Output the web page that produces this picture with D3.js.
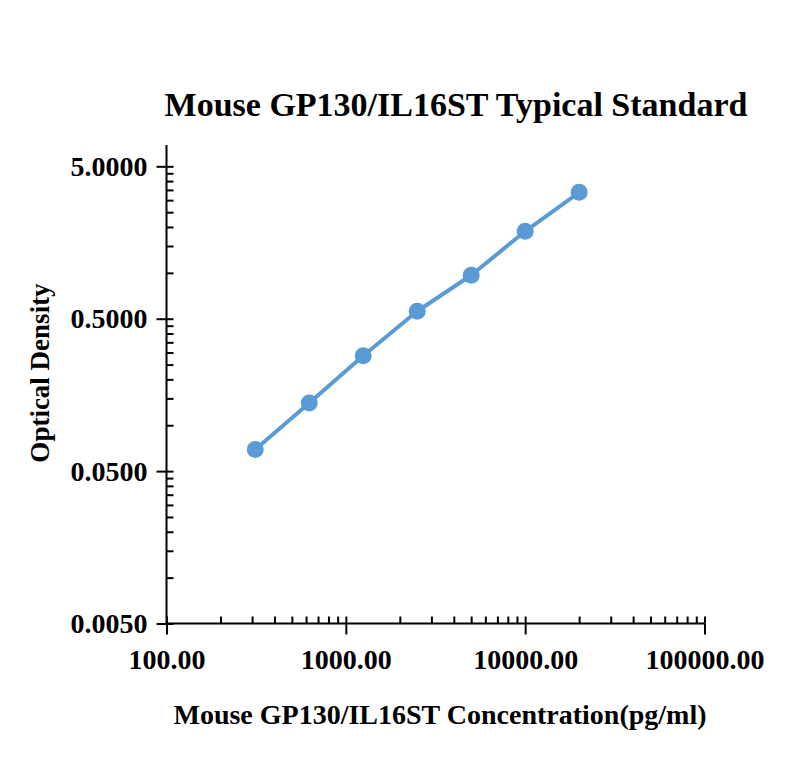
<!DOCTYPE html>
<html>
<head>
<meta charset="utf-8">
<script src="https://cdn.jsdelivr.net/npm/d3@7"></script>
<style>
  html, body { margin: 0; padding: 0; background: #fff; }
  svg { display: block; }
  text { font-family: "Liberation Serif", "Times New Roman", serif; font-weight: bold; fill: #000; }
</style>
</head>
<body>
<svg id="chart" width="800" height="784"></svg>
<script>
// ---- data ----
const concentrations = [312.5, 625, 1250, 2500, 5000, 10000, 20000];
const odValues = [0.0692, 0.140, 0.286, 0.560, 0.964, 1.873, 3.376];
const xMajorTicks = [100, 1000, 10000, 100000];
const xTickLabels = ["100.00", "1000.00", "10000.00", "100000.00"];
const yMajorTicks = [0.005, 0.05, 0.5, 5];
const yTickLabels = ["0.0050", "0.0500", "0.5000", "5.0000"];
const titleText = "Mouse GP130/IL16ST Typical Standard";
const xAxisTitle = "Mouse GP130/IL16ST Concentration(pg/ml)";
const yAxisTitle = "Optical Density";

// ---- layout ----
const svg = d3.select("#chart");
const left = 166.5, right = 704.5, bottom = 623.5;
const x = d3.scaleLog().domain([100, 100000]).range([left, right]);
const y = d3.scaleLog().domain([0.005, 6.9]).range([bottom, 145]);

const xMinor = [];
[100, 1000, 10000].forEach(b => { for (let k = 2; k <= 9; k++) xMinor.push(b * k); });
const yMinor = [];
[0.005, 0.05, 0.5].forEach(b => { for (let k = 2; k <= 9; k++) yMinor.push(+(b * k).toFixed(4)); });

const fontSize = 28;

const gyOuter = svg.append("g").attr("transform", `translate(${left},0)`)
  .call(d3.axisLeft(y).tickValues(yMajorTicks)
    .tickFormat((d, i) => yTickLabels[i]).tickSize(10).tickPadding(9));
const gyInner = svg.append("g").attr("transform", `translate(${left},0)`)
  .call(d3.axisRight(y).tickValues(yMajorTicks.concat(yMinor)).tickFormat("").tickSize(7));
gyInner.select(".domain").remove();

const gxOuter = svg.append("g").attr("transform", `translate(0,${bottom})`)
  .call(d3.axisBottom(x).tickValues(xMajorTicks)
    .tickFormat((d, i) => xTickLabels[i]).tickSize(11).tickPadding(15));
const gxInner = svg.append("g").attr("transform", `translate(0,${bottom})`)
  .call(d3.axisTop(x).tickValues(xMajorTicks.concat(xMinor)).tickFormat("").tickSize(7));
gxInner.select(".domain").remove();

[gyOuter, gyInner, gxOuter, gxInner].forEach(g => {
  g.selectAll(".domain").attr("stroke", "#000").attr("stroke-width", 2);
  g.selectAll(".tick line").attr("stroke", "#000").attr("stroke-width", 2);
  g.selectAll("text").attr("font-size", fontSize)
    .attr("font-family", '"Liberation Serif", "Times New Roman", serif')
    .attr("font-weight", "bold").attr("fill", "#000");
});
gyOuter.select(".domain").attr("d", `M0,${y.range()[0]}V${y.range()[1]}`);
gxOuter.select(".domain").attr("d", `M${x.range()[0]},0H${x.range()[1]}`);

// ---- line and points ----
const data = concentrations.map((c, i) => ({ c, v: odValues[i] }));
svg.append("path").datum(data)
  .attr("fill", "none").attr("stroke", "#5b9bd5").attr("stroke-width", 4)
  .attr("stroke-linejoin", "round")
  .attr("d", d3.line().x(d => x(d.c)).y(d => y(d.v)));
svg.append("g").selectAll("circle").data(data).join("circle")
  .attr("cx", d => x(d.c)).attr("cy", d => y(d.v)).attr("r", 8.5)
  .attr("fill", "#5b9bd5");

// ---- titles ----
svg.append("text").attr("x", 456).attr("y", 116).attr("text-anchor", "middle")
  .attr("font-size", 34).text(titleText);
svg.append("text").attr("x", 440).attr("y", 724).attr("text-anchor", "middle")
  .attr("font-size", fontSize).text(xAxisTitle);
svg.append("text").attr("transform", "translate(49,373) rotate(-90)")
  .attr("text-anchor", "middle").attr("font-size", 27).text(yAxisTitle);
</script>
</body>
</html>
